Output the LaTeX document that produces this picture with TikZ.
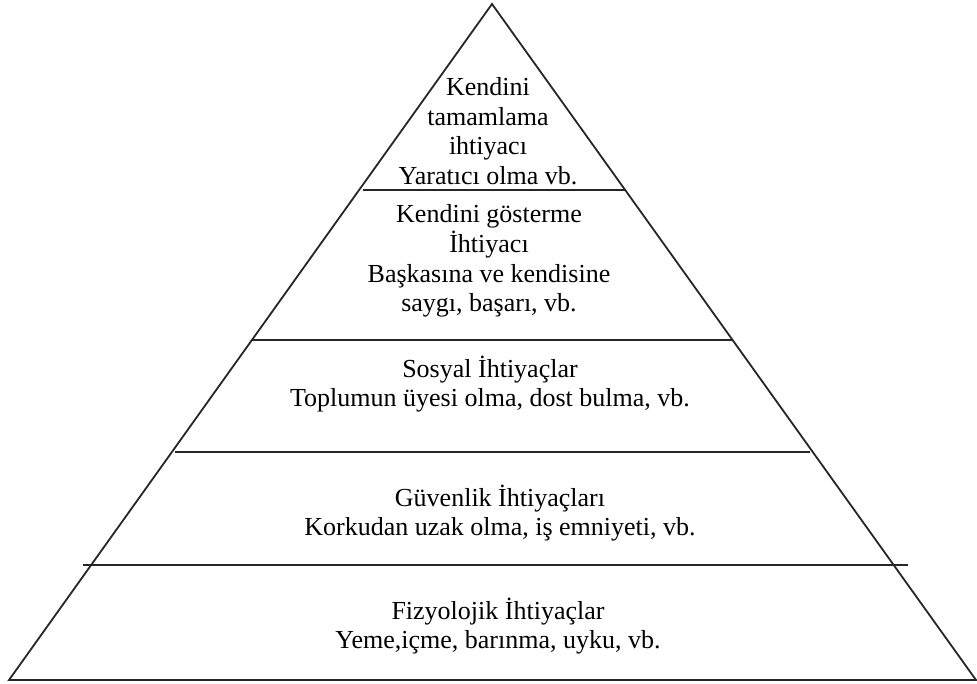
\documentclass[tikz,border=0pt]{standalone}
\usepackage{fontspec}
\setmainfont{Liberation Serif}
\begin{document}
\begin{tikzpicture}[x=1pt,y=-1pt,
  edge/.style={line width=1.8pt, draw=black!85, line join=miter},
  divider/.style={line width=1.7pt, draw=black!85},
  level/.style={align=center, inner sep=0pt, text=black,
    font=\fontsize{26}{29.6}\selectfont}]
  \useasboundingbox (0,0) rectangle (977,684);
  % pyramid outline
  \coordinate (apex) at (492,4);
  \coordinate (bl) at (9,680);
  \coordinate (br) at (976,680);
  \draw[edge] (apex) -- (br) -- (bl) -- cycle;
  % level dividers
  \coordinate (d1l) at (363,190); \coordinate (d1r) at (625,190);
  \coordinate (d2l) at (252,340); \coordinate (d2r) at (733,340);
  \coordinate (d3l) at (175,452); \coordinate (d3r) at (810,452);
  \coordinate (d4l) at (83,565);  \coordinate (d4r) at (908,565);
  \draw[divider] (d1l) -- (d1r);
  \draw[divider] (d2l) -- (d2r);
  \draw[divider] (d3l) -- (d3r);
  \draw[divider] (d4l) -- (d4r);
  % level texts
  \node[level] (l1) at (488,131) {Kendini\\tamamlama\\ihtiyacı\\Yaratıcı olma vb.};
  \node[level] (l2) at (489,261) {Kendini gösterme\\İhtiyacı\\Başkasına ve kendisine\\saygı, başarı, vb.};
  \node[level] (l3) at (490,384) {Sosyal İhtiyaçlar\\Toplumun üyesi olma, dost bulma, vb.};
  \node[level] (l4) at (500,513) {Güvenlik İhtiyaçları\\Korkudan uzak olma, iş emniyeti, vb.};
  \node[level] (l5) at (498,626) {Fizyolojik İhtiyaçlar\\Yeme,içme, barınma, uyku, vb.};
\end{tikzpicture}
\end{document}
